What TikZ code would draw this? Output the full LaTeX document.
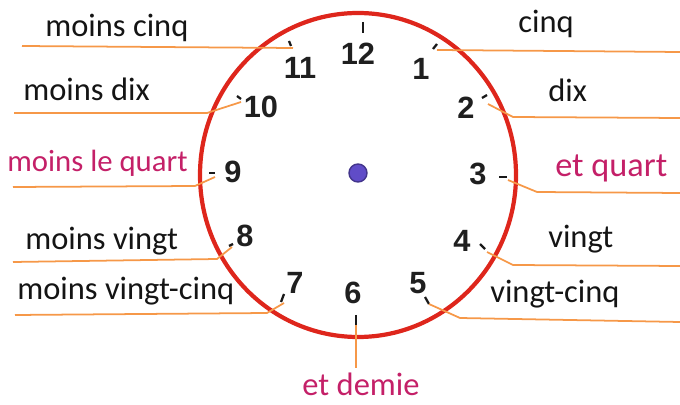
\documentclass[tikz,border=0pt]{standalone}
\usepackage{fontspec}
\setmainfont{Carlito}
\newfontfamily\numfont{Liberation Sans}
\usepackage{tikz}
\usetikzlibrary{positioning, calc}

\definecolor{cadran}{RGB}{222,38,28}
\definecolor{repere}{RGB}{246,152,72}
\definecolor{rose}{RGB}{196,32,104}
\definecolor{centre}{RGB}{96,76,200}

\tikzset{
  lbl/.style={font=\fontsize{18.5}{22}\selectfont, text=black!92, inner sep=0pt, anchor=base west},
  num/.style={font=\numfont\bfseries\fontsize{17.5}{20}\selectfont, text=black!88, inner sep=0pt},
  lead/.style={repere, line width=1pt},
  minute/.style={black!90, line width=1.3pt}
}

\begin{document}
\begin{tikzpicture}[x=0.02cm, y=-0.02cm]
  \useasboundingbox (0,0) rectangle (680,405);

  % Cadran
  \draw[cadran, line width=2.4pt] (358,175) ellipse [x radius=158, y radius=162];
  \filldraw[fill=centre, draw=centre!70!black, line width=0.8pt] (358,173) circle (9);

  % Chiffres
  \node[num] (h12) at (358,54) {12};
  \node[num] (h11) at (300,68) {11};
  \node[num] (h1) at (421,69) {1};
  \node[num] (h10) at (261,107) {10};
  \node[num] (h2) at (466,108) {2};
  \node[num] (h9) at (233,172) {9};
  \node[num] (h3) at (478,174) {3};
  \node[num] (h8) at (245,236) {8};
  \node[num] (h4) at (462,241) {4};
  \node[num] (h7) at (295,283) {7};
  \node[num] (h6) at (353,293) {6};
  \node[num] (h5) at (418,283) {5};

  % Traits des minutes
  \draw[minute] (363,22) -- (363,33);
  \draw[minute] (289,41) -- (291,46);
  \draw[minute] (433,49) -- (437,44);
  \draw[minute] (237,96) -- (241,99);
  \draw[minute] (482,98) -- (487,95);
  \draw[minute] (209,173) -- (215,173);
  \draw[minute] (499,177) -- (507,177);
  \draw[minute] (229,246) -- (233,244);
  \draw[minute] (480,244) -- (485,249);
  \draw[minute] (281,302) -- (284,294);
  \draw[minute] (356,315) -- (356,325);
  \draw[minute] (425,297) -- (429,304);

  % Repères
  \coordinate (m11) at (293,48);  \coordinate (e11) at (22,46);
  \coordinate (m10) at (241,102); \coordinate (k10) at (207,113); \coordinate (e10) at (14,113);
  \coordinate (m9) at (215,177);  \coordinate (k9) at (195,186);  \coordinate (e9) at (13,187);
  \coordinate (m8) at (232,247);  \coordinate (k8) at (217,259);  \coordinate (e8) at (13,262);
  \coordinate (m7) at (284,303);  \coordinate (k7) at (267,313);  \coordinate (e7) at (15,315);
  \coordinate (m6) at (356,325);  \coordinate (e6) at (356,368);
  \coordinate (m5) at (429,304);  \coordinate (k5) at (460,318);  \coordinate (e5) at (680,322);
  \coordinate (m4) at (487,252);  \coordinate (k4) at (513,265);  \coordinate (e4) at (680,266);
  \coordinate (m3) at (508,180);  \coordinate (k3) at (537,192);  \coordinate (e3) at (680,193);
  \coordinate (m2) at (488,104);  \coordinate (k2) at (513,117);  \coordinate (e2) at (680,118);
  \coordinate (m1) at (437,50);   \coordinate (e1) at (680,52);

  \draw[lead] (m11) -- (e11);
  \draw[lead] (m10) -- (k10) -- (e10);
  \draw[lead] (m9) -- (k9) -- (e9);
  \draw[lead] (m8) -- (k8) -- (e8);
  \draw[lead] (m7) -- (k7) -- (e7);
  \draw[lead] (m6) -- (e6);
  \draw[lead] (m5) -- (k5) -- (e5);
  \draw[lead] (m4) -- (k4) -- (e4);
  \draw[lead] (m3) -- (k3) -- (e3);
  \draw[lead] (m2) -- (k2) -- (e2);
  \draw[lead] (m1) -- (e1);

  % Expressions
  \node[lbl] (moinscinq) at (45,37) {moins cinq};
  \node[lbl] (moinsdix) at (23,101) {moins dix};
  \node[lbl, text=rose, font=\fontsize{17.5}{21}\selectfont] (moinsquart) at (7,172) {moins le quart};
  \node[lbl] (moinsvingt) at (25,250) {moins vingt};
  \node[lbl] (moinsvingtcinq) at (17,300) {moins vingt-cinq};
  \node[lbl, text=rose, anchor=base] (demie) at (361,396) {et demie};
  \node[lbl] (vingtcinq) at (490,303) {vingt-cinq};
  \node[lbl] (vingt) at (548,248) {vingt};
  \node[lbl, text=rose, font=\fontsize{19.5}{23}\selectfont] (quart) at (555,177) {et quart};
  \node[lbl] (dix) at (548,102) {dix};
  \node[lbl] (cinq) at (518,33) {cinq};
\end{tikzpicture}
\end{document}
